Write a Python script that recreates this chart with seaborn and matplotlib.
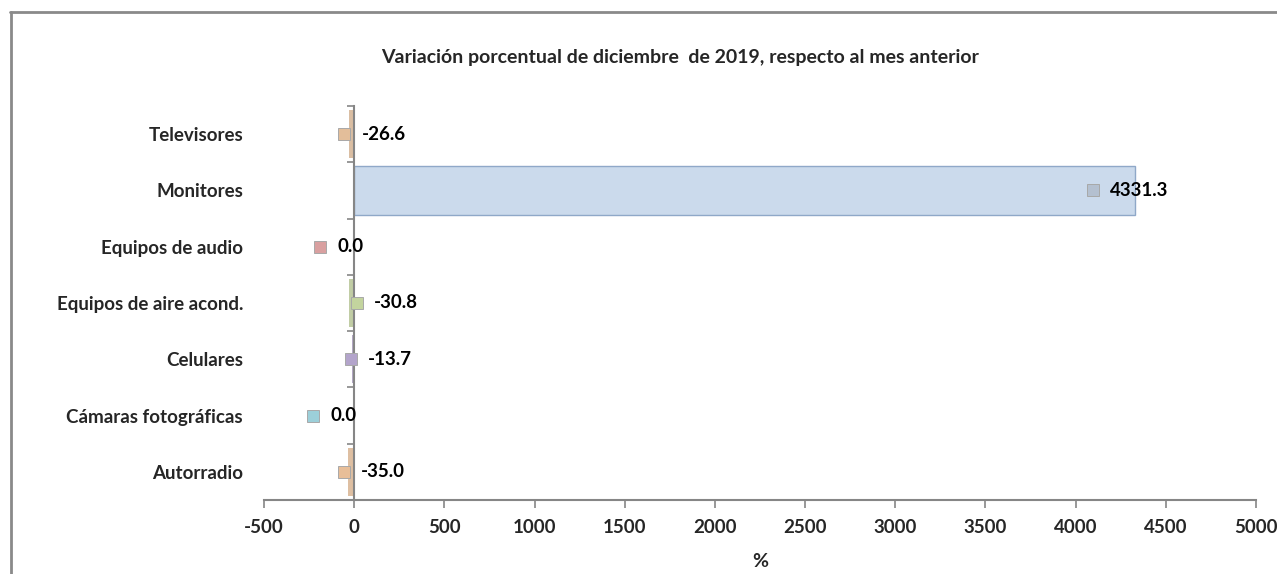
import matplotlib
matplotlib.use("Agg")
import matplotlib.pyplot as plt
import seaborn as sns
import pandas as pd
from matplotlib.lines import Line2D

categories = ["Televisores", "Monitores", "Equipos de audio", "Equipos de aire acond.",
              "Celulares", "Cámaras fotográficas", "Autorradio"]
values = [-26.6, 4331.3, 0.0, -30.8, -13.7, 0.0, -35.0]
labels = ["-26.6", "4331.3", "0.0", "-30.8", "-13.7", "0.0", "-35.0"]
xticks = [-500, 0, 500, 1000, 1500, 2000, 2500, 3000, 3500, 4000, 4500, 5000]
title = "Variación porcentual de diciembre  de 2019, respecto al mes anterior"
xlabel = "%"

colors = ["#E3BE9A", "#C6D9F1", "#D9A0A0", "#C3D49E", "#B3A4CB", "#9CCFD9", "#E8BE98"]
key_colors = ["#E3BE9A", "#B4C0D0", "#D9A0A0", "#C3D49E", "#B3A4CB", "#9CCFD9", "#E8BE98"]
# label offsets in pixels relative to bar end (style)
label_off_px = [12, -25, -17, 25, 16, -24, 13]

sns.set_theme(style="white")
plt.rcParams["font.family"] = ["Lato", "DejaVu Sans"]

W, H = 1277, 574
fig = plt.figure(figsize=(W / 100, H / 100), dpi=100)
ax = fig.add_axes([264 / W, 74 / H, (1256 - 264) / W, (500 - 106) / H])

df = pd.DataFrame({"cat": categories, "val": values})
sns.barplot(data=df, x="val", y="cat", hue="cat", palette=colors, orient="h",
            width=0.86, legend=False, ax=ax, linewidth=0)
for p in ax.patches:
    if p.get_width() > 1000:
        p.set_edgecolor("#8FA8C8")
        p.set_linewidth(1.0)

ax.spines["left"].set_position(("data", 0))
ax.spines["left"].set_color("#868686")
ax.spines["left"].set_linewidth(1.5)
for s in ["top", "right"]:
    ax.spines[s].set_visible(False)
ax.spines["bottom"].set_color("#868686")
ax.spines["bottom"].set_linewidth(1.5)

ax.set_xlim(-500, 5000)
ax.set_ylim(6.5, -0.5)
ax.set_xticks(xticks)
ax.set_xticklabels([str(t) for t in xticks], fontsize=13.5, fontweight="bold")
ax.set_ylabel("")
ax.set_xlabel(xlabel, fontsize=14, fontweight="bold", labelpad=12)
ax.set_yticks(range(len(categories)))
ax.set_yticklabels(categories, fontsize=13.5, fontweight="bold")
ax.tick_params(axis="y", which="major", left=True, length=0, pad=80)
ax.set_yticks([i - 0.5 for i in range(len(categories) + 1)], minor=True)
ax.tick_params(axis="y", which="minor", left=True, length=5, color="#868686", width=1.2,
               direction="out")
ax.tick_params(axis="x", bottom=True, length=6, color="#868686", width=1.2, direction="out",
               pad=8)

# labels with legend keys
px_per_unit = (1256 - 264) / 5500
for i, (v, lab, off, c) in enumerate(zip(values, labels, label_off_px, key_colors)):
    ax.annotate(lab, xy=(v, i), xytext=(off * 0.72, 0), textcoords="offset points",
                ha="left", va="center", fontsize=13.5, fontweight="bold", color="black")
    ax.plot([v + (off - 17) / px_per_unit], [i], marker="s", markersize=8.5,
            color=c, markeredgecolor="#a8a8a8", markeredgewidth=0.7, zorder=5, clip_on=False)

fig.text(680 / W, 1 - 57 / H, title, ha="center", va="center",
         fontsize=14, fontweight="bold")

# outer frame
fig.add_artist(Line2D([10 / W, 1], [1 - 11.5 / H, 1 - 11.5 / H], color="#8a8a8a", lw=2,
                      transform=fig.transFigure))
fig.add_artist(Line2D([10.5 / W, 10.5 / W], [0, 1 - 11.5 / H], color="#8a8a8a", lw=2,
                      transform=fig.transFigure))

fig.savefig("out.png", dpi=100)
